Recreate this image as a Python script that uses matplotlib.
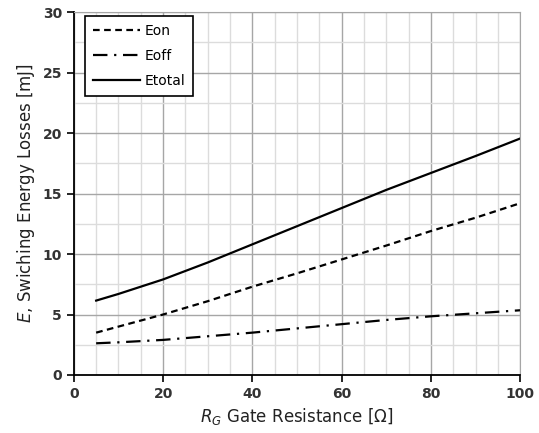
import matplotlib
matplotlib.use("Agg")
import matplotlib.pyplot as plt
from matplotlib.ticker import MultipleLocator

# gate resistance [ohm] and switching energies [mJ]
rg = [5, 10, 20, 30, 40, 50, 60, 70, 80, 90, 100]
eon = [3.5, 4.0, 5.0, 6.1, 7.3, 8.4, 9.55, 10.7, 11.9, 13.0, 14.2]
eoff = [2.62, 2.7, 2.9, 3.2, 3.5, 3.85, 4.2, 4.55, 4.85, 5.1, 5.35]
etotal = [6.15, 6.7, 7.9, 9.3, 10.8, 12.3, 13.8, 15.3, 16.7, 18.1, 19.55]

plt.rcParams["font.family"] = "DejaVu Sans"

fig = plt.figure(figsize=(5.39, 4.33), dpi=100)
ax = fig.add_axes([0.137, 0.134, 0.828, 0.838])

ax.plot(rg, eon, color="black", lw=1.6, linestyle=(0, (3, 2)), label="Eon")
ax.plot(rg, eoff, color="black", lw=1.6, linestyle=(0, (6.5, 3, 1, 3)), label="Eoff")
ax.plot(rg, etotal, color="black", lw=1.6, label="Etotal")

ax.set_xlim(0, 100)
ax.set_ylim(0, 30)
ax.xaxis.set_major_locator(MultipleLocator(20))
ax.xaxis.set_minor_locator(MultipleLocator(5))
ax.yaxis.set_major_locator(MultipleLocator(5))
ax.yaxis.set_minor_locator(MultipleLocator(2.5))

ax.grid(which="major", color="#a6a6a6", lw=1.0)
ax.grid(which="minor", color="#dcdcdc", lw=1.0)
ax.set_axisbelow(True)

for side in ["top", "right"]:
    ax.spines[side].set_color("#a6a6a6")
for side in ["left", "bottom"]:
    ax.spines[side].set_color("black")
    ax.spines[side].set_linewidth(1.3)

ax.tick_params(which="major", direction="out", length=5, width=1.2,
               labelsize=10, labelcolor="#333333")
ax.tick_params(which="minor", length=0)
for lbl in ax.get_xticklabels() + ax.get_yticklabels():
    lbl.set_fontweight("bold")

ax.set_xlabel(r"$R_G$ Gate Resistance [Ω]", fontsize=12, color="#222222")
ax.set_ylabel(r"$E$, Swiching Energy Losses [mJ]", fontsize=12, color="#222222")

leg = ax.legend(loc="upper left", bbox_to_anchor=(0.025, 0.989), fontsize=10,
                fancybox=False, framealpha=1, edgecolor="black",
                handlelength=3.4, handletextpad=0.35, borderpad=0.55,
                labelspacing=0.8, borderaxespad=0)
leg.get_frame().set_linewidth(1.2)

fig.savefig("out.png", dpi=100)
